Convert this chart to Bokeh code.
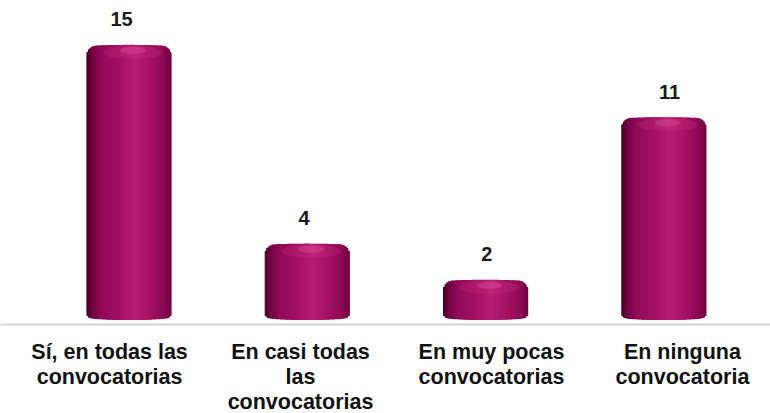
import numpy as np
from bokeh.plotting import figure
from bokeh.models import Range1d, Span, ColumnDataSource
from bokeh.embed import file_html
from bokeh.resources import INLINE
from bokeh.core.properties import value

categories = ["Sí, en todas las\nconvocatorias",
              "En casi todas\nlas\nconvocatorias",
              "En muy pocas\nconvocatorias",
              "En ninguna\nconvocatoria"]
values = [15, 4, 2, 11]
value_labels = ["15", "4", "2", "11"]

W, H = 770, 413
XPX = 178.3          # pixels per category step
YPX = 18.07          # pixels per unit
BASE = 316           # baseline pixel row inside canvas
X0PX = 128.5         # pixel column of first category
x0 = -X0PX / XPX

p = figure(width=W, height=H,
           x_range=Range1d(x0, x0 + W / XPX),
           y_range=Range1d(-(H - BASE) / YPX, BASE / YPX),
           output_backend="svg", toolbar_location=None, min_border=0)
p.axis.visible = False
p.grid.visible = False
p.outline_line_color = None
p.background_fill_color = "white"
p.border_fill_color = "white"

# shading profile across cylinder (u from -1 left to 1 right)
ctrl_u = [-1.0, -0.88, -0.65, -0.25, 0.15, 0.5, 0.85, 1.0]
ctrl_c = [(62, 0, 34), (112, 4, 64), (145, 10, 88), (162, 16, 98),
          (184, 30, 114), (166, 18, 100), (140, 8, 84), (112, 4, 66)]

def shade(u):
    r = np.interp(u, ctrl_u, [c[0] for c in ctrl_c])
    g = np.interp(u, ctrl_u, [c[1] for c in ctrl_c])
    b = np.interp(u, ctrl_u, [c[2] for c in ctrl_c])
    return "#%02x%02x%02x" % (int(r), int(g), int(b))

HALF = 42.0   # half width in px
RC = 9.0      # corner radius px
N = 56
left, right, top, bottom, color = [], [], [], [], []
for i, v in enumerate(values):
    edges = np.linspace(-1, 1, N + 1)
    for k in range(N):
        uc = 0.5 * (edges[k] + edges[k + 1])
        xpx = abs(uc) * HALF
        drop = 2.0 * (1 - np.sqrt(max(0.0, 1 - uc * uc)))
        if xpx > HALF - RC:
            dx = xpx - (HALF - RC)
            drop += RC - np.sqrt(max(0.0, RC * RC - dx * dx))
        bdrop = 3.0 * np.sqrt(max(0.0, 1 - uc * uc))
        if xpx > HALF - 4:
            dx = xpx - (HALF - 4)
            bdrop -= 4 - np.sqrt(max(0.0, 16 - dx * dx))
        left.append(i + edges[k] * HALF / XPX)
        right.append(i + edges[k + 1] * HALF / XPX)
        top.append(v - drop / YPX)
        bottom.append(-bdrop / YPX)
        color.append(shade(uc))

src = ColumnDataSource(dict(left=left, right=right, top=top, bottom=bottom, color=color))
p.quad(left="left", right="right", top="top", bottom="bottom", source=src,
       fill_color="color", line_color="color", line_width=1.2)

# cap highlight
xs = list(range(len(values)))
hx = [x + 4 / XPX for x in xs]
p.ellipse(x=hx, y=[v - 7 / YPX for v in values], width=60, height=13,
          width_units="screen", height_units="screen",
          fill_color="#d8408e", fill_alpha=0.2, line_color=None)
p.ellipse(x=hx, y=[v - 5 / YPX for v in values], width=26, height=7,
          width_units="screen", height_units="screen",
          fill_color="#f070b0", fill_alpha=0.25, line_color=None)

# axis line
p.add_layout(Span(location=-8 / YPX, dimension="width", line_color="#d4d4d4", line_width=2))

# value labels (slightly spread relative to the bars, as in the source image)
vx = [-0.042 + 1.0245 * x for x in xs]
p.text(x=vx, y=values, text=value_labels, text_align="center", text_baseline="alphabetic",
       y_offset=-26, text_font=value("Liberation Sans"), text_font_style="bold",
       text_font_size="20px", text_color="#1a1a1a")

# category labels
cx = [-0.109 + 1.071 * x for x in xs]
p.text(x=cx, y=[0] * len(xs), text=categories, text_align="center", text_baseline="top",
       y_offset=23, text_font=value("Liberation Sans"), text_font_style="bold",
       text_font_size="21.5px", text_line_height=1.05, text_color="#111111")

open("out.html", "w").write(file_html(p, INLINE))
